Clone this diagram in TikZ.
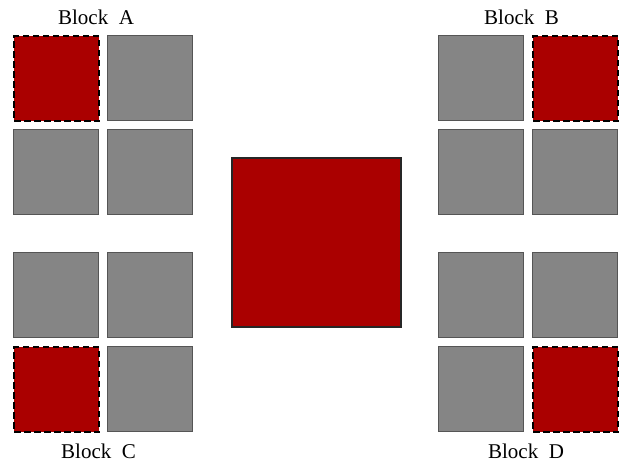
\documentclass[tikz,border=0pt]{standalone}
\usepackage{fontspec}
\setmainfont{Liberation Serif}
\definecolor{cellgray}{HTML}{858585}
\definecolor{cellline}{HTML}{555555}
\definecolor{cellred}{HTML}{AA0000}
\begin{document}
\begin{tikzpicture}[x=1pt,y=-1pt,
  cell/.style={draw=cellline,line width=1.3pt,fill=cellgray,minimum size=85pt,inner sep=0pt,anchor=north west},
  hotcell/.style={cell,draw=black,fill=cellred,dash pattern=on 6.5pt off 3.5pt,line width=2pt},
  core/.style={draw=black!85,line width=1.6pt,fill=cellred,minimum size=169pt,inner sep=0pt,anchor=north west},
  blocklabel/.style={font=\fontsize{21}{25}\selectfont,anchor=base,inner sep=0pt}]
\useasboundingbox (0,0) rectangle (638,464);
% Block A (top left)
\node[hotcell] (a11) at (13,35) {};
\node[cell] (a12) at (107,35) {};
\node[cell] (a21) at (13,129) {};
\node[cell] (a22) at (107,129) {};
% Block C (bottom left)
\node[cell] (c11) at (13,252) {};
\node[cell] (c12) at (107,252) {};
\node[hotcell] (c21) at (13,346) {};
\node[cell] (c22) at (107,346) {};
% Block B (top right)
\node[cell] (b11) at (438,35) {};
\node[hotcell] (b12) at (532,35) {};
\node[cell] (b21) at (438,129) {};
\node[cell] (b22) at (532,129) {};
% Block D (bottom right)
\node[cell] (d11) at (438,252) {};
\node[cell] (d12) at (532,252) {};
\node[cell] (d21) at (438,346) {};
\node[hotcell] (d22) at (532,346) {};
% central square
\node[core] (mid) at (231,157) {};
% block labels
\node[blocklabel] (la) at (96,24) {Block\hspace{0.5em}A};
\node[blocklabel] (lb) at (521.5,24) {Block\hspace{0.5em}B};
\node[blocklabel] (lc) at (98.5,458) {Block\hspace{0.5em}C};
\node[blocklabel] (ld) at (526,458) {Block\hspace{0.5em}D};
\end{tikzpicture}
\end{document}
